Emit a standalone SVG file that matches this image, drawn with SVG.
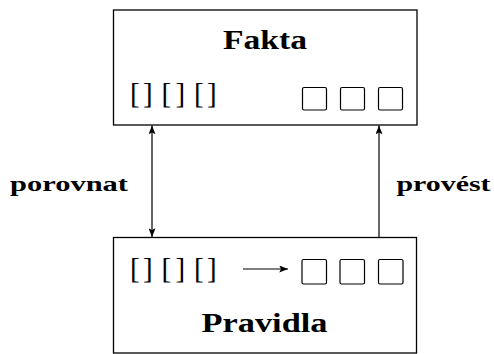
<svg xmlns="http://www.w3.org/2000/svg" width="494" height="354" viewBox="0 0 494 354">
<style>
.box{fill:#fff;stroke:#000;stroke-width:1.3}
.sq{fill:none;stroke:#000;stroke-width:1.2}
.title{font-family:"Liberation Serif","Times New Roman",serif;font-weight:bold;font-size:27px;fill:#000}
.lbl{font-family:"Liberation Serif","Times New Roman",serif;font-weight:bold;font-size:22px;fill:#000}
.br{font-family:"Liberation Serif","Times New Roman",serif;font-size:29px;fill:#000}
.ln{fill:none;stroke:#000;stroke-width:1.2}
</style>
<defs>
<marker id="ah" viewBox="0 0 10 8" refX="10" refY="4" markerWidth="10" markerHeight="7" markerUnits="userSpaceOnUse" orient="auto-start-reverse">
<path d="M0,0 L10,4 L0,8 L2,4 Z" fill="#000"/>
</marker>
</defs>
<g id="fakta">
<rect class="box" x="113.5" y="10" width="303.5" height="115"/>
<text class="title" x="265" y="49" text-anchor="middle" textLength="84" lengthAdjust="spacingAndGlyphs">Fakta</text>
<text class="br" y="103"><tspan x="130">[</tspan><tspan x="143">]</tspan><tspan x="161.5">[</tspan><tspan x="175.5">]</tspan><tspan x="194">[</tspan><tspan x="207">]</tspan></text>
<rect class="sq" x="302.5" y="87.5" width="24" height="22.5" rx="1.5"/>
<rect class="sq" x="340.5" y="87.5" width="24" height="22.5" rx="1.5"/>
<rect class="sq" x="378.5" y="87.5" width="24" height="22.5" rx="1.5"/>
</g>
<g id="pravidla">
<rect class="box" x="113.5" y="237.5" width="303" height="115.5"/>
<text class="br" y="278"><tspan x="130">[</tspan><tspan x="143">]</tspan><tspan x="161.5">[</tspan><tspan x="175.5">]</tspan><tspan x="194">[</tspan><tspan x="207">]</tspan></text>
<rect class="sq" x="302" y="259.5" width="24.5" height="24.5" rx="1.5"/>
<rect class="sq" x="340" y="259.5" width="24.5" height="24.5" rx="1.5"/>
<rect class="sq" x="378.5" y="259.5" width="24.5" height="24.5" rx="1.5"/>
<line class="ln" x1="243" y1="269" x2="288" y2="269" marker-end="url(#ah)"/>
<text class="title" x="264.5" y="331.5" text-anchor="middle" textLength="126" lengthAdjust="spacingAndGlyphs">Pravidla</text>
</g>
<g id="connectors">
<line class="ln" x1="152" y1="125.5" x2="152" y2="237" marker-start="url(#ah)" marker-end="url(#ah)"/>
<line class="ln" x1="379" y1="237" x2="379" y2="125.5" marker-end="url(#ah)"/>
</g>
<g id="labels">
<text class="lbl" x="10" y="191" textLength="118" lengthAdjust="spacingAndGlyphs">porovnat</text>
<text class="lbl" x="396.5" y="191" textLength="94" lengthAdjust="spacingAndGlyphs">provést</text>
</g>
</svg>
